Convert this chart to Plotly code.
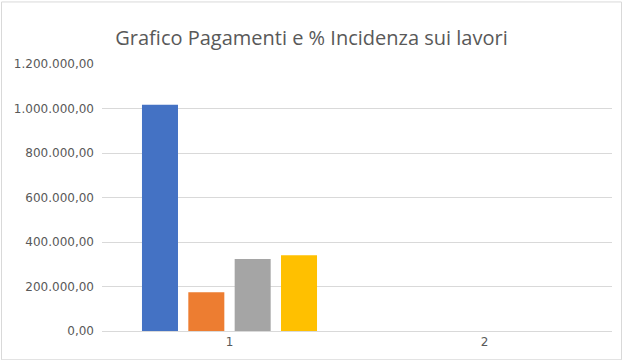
import plotly.graph_objects as go

categories = ["1", "2"]
series_names = ["Serie1", "Serie2", "Serie3", "Serie4"]
series_values = [
    [1017000, 0.0],
    [174000, 0.0],
    [324000, 0.0],
    [340000, 0.0],
]
colors = ["#4472C4", "#ED7D31", "#A5A5A5", "#FFC000"]
y_ticks = [0, 200000, 400000, 600000, 800000, 1000000, 1200000]

fig = go.Figure()
for name, vals, c in zip(series_names, series_values, colors):
    fig.add_trace(go.Bar(x=categories, y=vals, name=name, marker=dict(color=c, line=dict(width=0))))

L, R, T, B = 102, 11, 64, 27
W, H = 623, 360
pw, ph = W - L - R, H - T - B

fig.update_layout(
    width=W, height=H,
    margin=dict(l=L, r=R, t=T, b=B),
    paper_bgcolor="white", plot_bgcolor="white",
    barmode="group", bargap=0.273, bargroupgap=0.223,
    showlegend=False,
    separators=",.",
    title=dict(text="Grafico Pagamenti e % Incidenza sui lavori", x=0.5, xref="container",
               xanchor="center", y=1 - 38 / H, yanchor="middle",
               font=dict(family="Open Sans", size=20, color="#595959")),
    xaxis=dict(type="category", showgrid=False, showline=False, zeroline=False,
               tickfont=dict(family="DejaVu Sans", size=12, color="#595959"), ticks="",
               ticklabelstandoff=2),
    yaxis=dict(range=[0, 1200000], tickvals=y_ticks, tickformat=",.2f",
               showgrid=True, gridcolor="#d9d9d9", gridwidth=1,
               zeroline=True, zerolinecolor="#d9d9d9", zerolinewidth=1,
               showline=False, ticks="", ticklabelstandoff=7,
               tickfont=dict(family="DejaVu Sans", size=12, color="#595959")),
    shapes=[dict(type="rect", xref="paper", yref="paper",
                 x0=(1.5 - L) / pw, x1=(W - 1.5 - L) / pw,
                 y0=(ph + T - (H + 2)) / ph, y1=(ph + T - 1.5) / ph,
                 line=dict(color="#d9d9d9", width=1), layer="below")],
)

fig.write_html("out.html", config={"displayModeBar": False},
               post_script="document.body.style.margin='0';document.body.style.padding='0';")
